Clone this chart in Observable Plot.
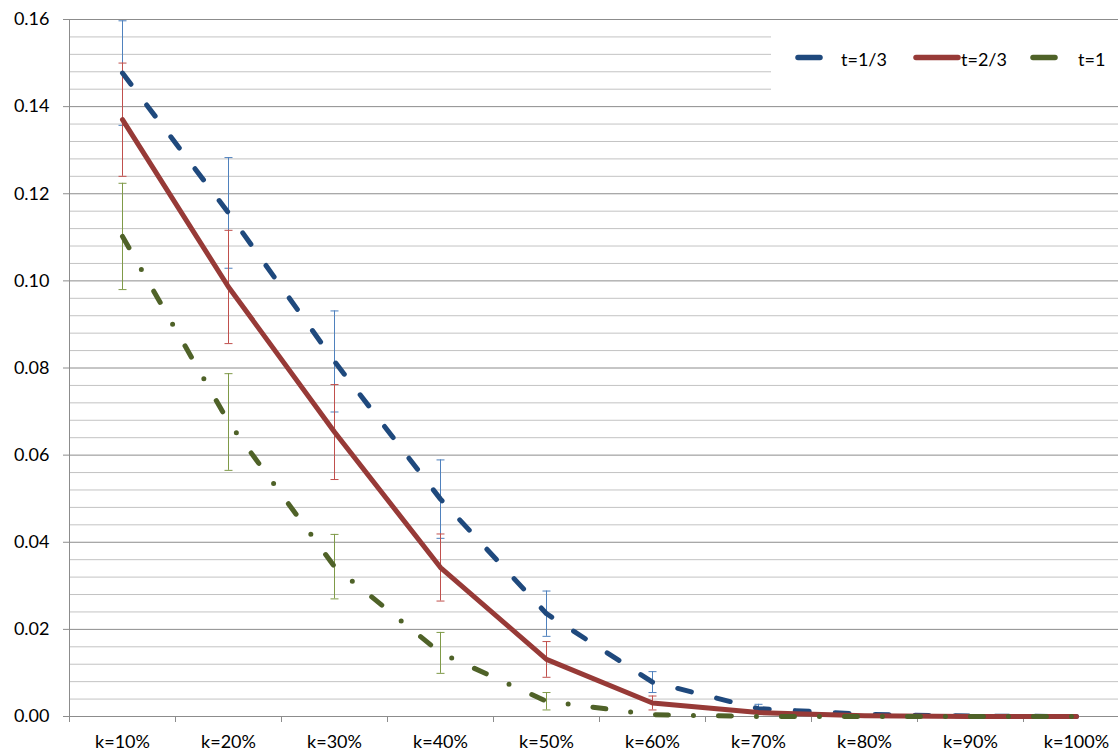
<!DOCTYPE html>
<html><head><meta charset="utf-8">
<script src="https://cdn.jsdelivr.net/npm/d3@7"></script>
<script src="https://cdn.jsdelivr.net/npm/@observablehq/plot@0.6"></script>
<style>
body{margin:0;background:#fff;}
#wrap{position:relative;width:1118px;height:751px;overflow:hidden;}
#legend{position:absolute;left:771px;top:26px;}
</style>
</head><body><div id="wrap"></div>
<script>
// ---- data ----
const categories = ["k=10%","k=20%","k=30%","k=40%","k=50%","k=60%","k=70%","k=80%","k=90%","k=100%"];
const seriesNames = ["t=1/3","t=2/3","t=1"];
const meanT13 = [0.1477, 0.1156, 0.0815, 0.0499, 0.0236, 0.0079, 0.0018, 0.0005, 0.0001, 0];
const errT13  = [0.0120, 0.0127, 0.0116, 0.0090, 0.0052, 0.0024, 0.0010, 0, 0, 0];
const meanT23 = [0.1370, 0.0986, 0.0653, 0.0342, 0.0131, 0.0031, 0.0009, 0.0002, 0, 0];
const errT23  = [0.0130, 0.0130, 0.0109, 0.0077, 0.0041, 0.0016, 0, 0, 0, 0];
const meanT1  = [0.1102, 0.0676, 0.0344, 0.0146, 0.0035, 0.0004, 0, 0, 0, 0];
const errT1   = [0.0122, 0.0111, 0.0074, 0.0047, 0.0020, 0, 0, 0, 0, 0];
const yTicks = [0, 0.02, 0.04, 0.06, 0.08, 0.10, 0.12, 0.14, 0.16];

const lineColors = ["#1F497D", "#973A37", "#4F6228"];
const errColors  = ["#4F81BD", "#C0504D", "#7F9A48"];
const dashes     = ["14,26", null, "13,25,0,25"];

const means = [meanT13, meanT23, meanT1];
const errs  = [errT13, errT23, errT1];
const series = seriesNames.map((s, i) => categories.map((k, j) => ({s, k, v: means[i][j], e: errs[i][j]})));

const W = 1118, H = 751, ML = 69, MT = 19, MB = 35;
const X0 = 69, X1 = 1129;           // plot area extends slightly past the right edge
const bw = (X1 - X0) / categories.length;
const minor = d3.range(0, 0.1601, 0.004).filter(v => Math.abs(v / 0.02 - Math.round(v / 0.02)) > 1e-6);
const cap = {draw(ctx) { ctx.moveTo(-4, 0); ctx.lineTo(4, 0); }};
const FONT = "Lato, 'Open Sans', sans-serif";

const marks = [
  Plot.ruleY(minor, {stroke: "#c3c3c3", strokeWidth: 1}),
  Plot.ruleY(yTicks, {stroke: "#8c8c8c", strokeWidth: 1}),
  Plot.ruleX([categories[0]], {dx: -bw / 2, stroke: "#8c8c8c"}),
  Plot.axisY(yTicks, {tickFormat: d3.format(".2f"), tickSize: 6, tickPadding: 14, stroke: "#8c8c8c", label: null}),
  Plot.axisX(categories, {tickSize: 0, tickPadding: 19, label: null}),
  Plot.axisX(categories, {tickSize: 6, tickFormat: () => "", dx: -bw / 2, stroke: "#8c8c8c", label: null})
];
series.forEach((data, i) => {
  const eb = data.filter(d => d.e > 0);
  marks.push(Plot.ruleX(eb, {x: "k", y1: d => d.v - d.e, y2: d => d.v + d.e, stroke: errColors[i], strokeWidth: 1}));
  marks.push(Plot.dot(eb, {x: "k", y: d => d.v + d.e, symbol: cap, stroke: errColors[i], fill: "none", strokeWidth: 1}));
  marks.push(Plot.dot(eb, {x: "k", y: d => d.v - d.e, symbol: cap, stroke: errColors[i], fill: "none", strokeWidth: 1}));
});
series.forEach((data, i) => {
  marks.push(Plot.line(data, {x: "k", y: "v", stroke: lineColors[i], strokeWidth: 5,
    strokeLinecap: "round", strokeLinejoin: "round", strokeDasharray: dashes[i] || undefined}));
});

const chart = Plot.plot({
  width: W, height: H, marginLeft: ML, marginRight: 0, marginTop: MT, marginBottom: MB,
  style: {fontFamily: FONT, fontSize: "18px", color: "#000", background: "#fff", overflow: "hidden"},
  x: {type: "point", domain: categories, padding: 0.5, round: false, range: [X0, X1], label: null},
  y: {domain: [0, 0.16], label: null},
  marks
});
const wrap = document.getElementById("wrap");
wrap.appendChild(chart);

// ---- legend (overlay inside plot area) ----
const swatchX = [[27, 49], [145, 187], [262, 284]];
const textX = [70, 190, 307];
const lg = d3.create("svg").attr("id", "legend").attr("width", 347).attr("height", 73)
  .style("font-family", FONT).style("font-size", "18px");
lg.append("rect").attr("width", 347).attr("height", 73).attr("fill", "#fff");
seriesNames.forEach((s, i) => {
  lg.append("line").attr("x1", swatchX[i][0]).attr("x2", swatchX[i][1]).attr("y1", 31.5).attr("y2", 31.5)
    .attr("stroke", lineColors[i]).attr("stroke-width", 5.5).attr("stroke-linecap", "round");
  lg.append("text").attr("x", textX[i]).attr("y", 34).attr("dy", "0.32em").attr("fill", "#000").text(s);
});
wrap.appendChild(lg.node());
</script>
</body></html>
